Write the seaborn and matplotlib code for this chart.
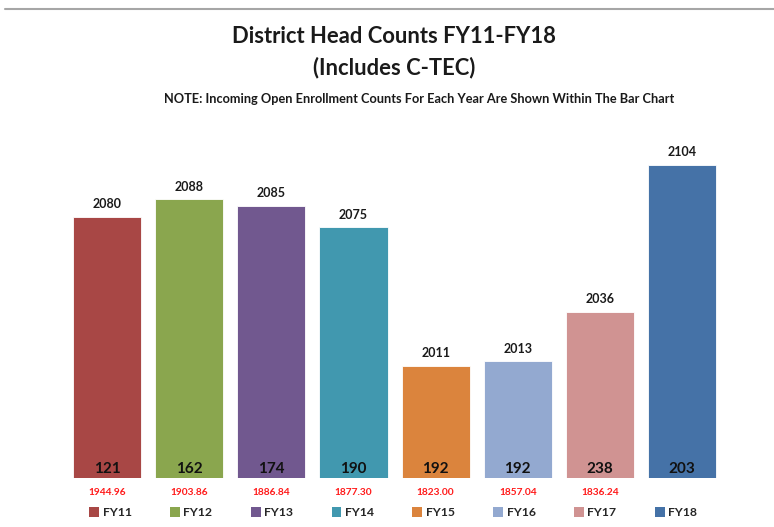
import seaborn as sns
import matplotlib.pyplot as plt
import pandas as pd
from matplotlib.patches import Patch
from matplotlib.lines import Line2D
from matplotlib.transforms import blended_transform_factory

# Data
years = ["FY11", "FY12", "FY13", "FY14", "FY15", "FY16", "FY17", "FY18"]
head_counts = [2080, 2088, 2085, 2075, 2011, 2013, 2036, 2104]
open_enroll = [121, 162, 174, 190, 192, 192, 238, 203]
red_labels = ["1944.96", "1903.86", "1886.84", "1877.30", "1823.00", "1857.04", "1836.24", ""]
colors = ["#A84745", "#8AA64E", "#71588F", "#4198AF",
          "#DB843D", "#93A9D0", "#D09392", "#4572A7"]

df = pd.DataFrame({"year": years, "count": head_counts})

sns.set_style("white")
plt.rcParams['font.family'] = ['Lato', 'DejaVu Sans']

fig = plt.figure(figsize=(7.74, 5.27), dpi=100)
ax = fig.add_axes([0.0853, 0.0924, 0.849, 0.661])

sns.barplot(data=df, x="year", y="count", hue="year", palette=colors,
            saturation=1, width=0.83, legend=False, ax=ax,
            edgecolor="white", linewidth=0.6)

ax.set_ylim(1959, 2120)
ax.set_xlim(-0.5, len(years) - 0.5)
sns.despine(ax=ax, left=True, bottom=True)
ax.set_xticks([])
ax.set_yticks([])
ax.set_xlabel("")
ax.set_ylabel("")

trans = blended_transform_factory(ax.transData, ax.transAxes)
for i, (v, n, r) in enumerate(zip(head_counts, open_enroll, red_labels)):
    ax.text(i, v + 3, str(v), ha="center", va="bottom", fontsize=9,
            fontweight="bold", color="#1a1a1a")
    ax.text(i, 0.028, str(n), transform=trans, ha="center", va="center",
            fontsize=11, fontweight="bold", color="#111111")
    if r:
        ax.text(i, -0.04, r, transform=trans, ha="center", va="center",
                fontsize=7.3, fontweight="bold", color="#FF1A1A")

handles = [Patch(facecolor=c, edgecolor="none") for c in colors]
fig.legend(handles, years, loc="center", bbox_to_anchor=(0.508, 0.027), ncol=8,
           frameon=False, handlelength=0.8, handleheight=0.8,
           handletextpad=0.3, columnspacing=3.14,
           prop={"size": 8.8, "weight": "bold"})

fig.text(0.509, 0.93, "District Head Counts FY11-FY18", ha="center", va="center",
         fontsize=15.8, fontweight="bold", color="#1a1a1a")
fig.text(0.509, 0.871, "(Includes C-TEC)", ha="center", va="center",
         fontsize=15.8, fontweight="bold", color="#1a1a1a")
fig.text(0.541, 0.812, "NOTE: Incoming Open Enrollment Counts For Each Year Are Shown Within The Bar Chart",
         ha="center", va="center", fontsize=9.2, fontweight="bold", color="#1a1a1a")

fig.add_artist(Line2D([0.006, 1.0], [0.983, 0.983], transform=fig.transFigure,
                      color="#A6A6A6", linewidth=1.5))

fig.savefig("out.png", dpi=100)
